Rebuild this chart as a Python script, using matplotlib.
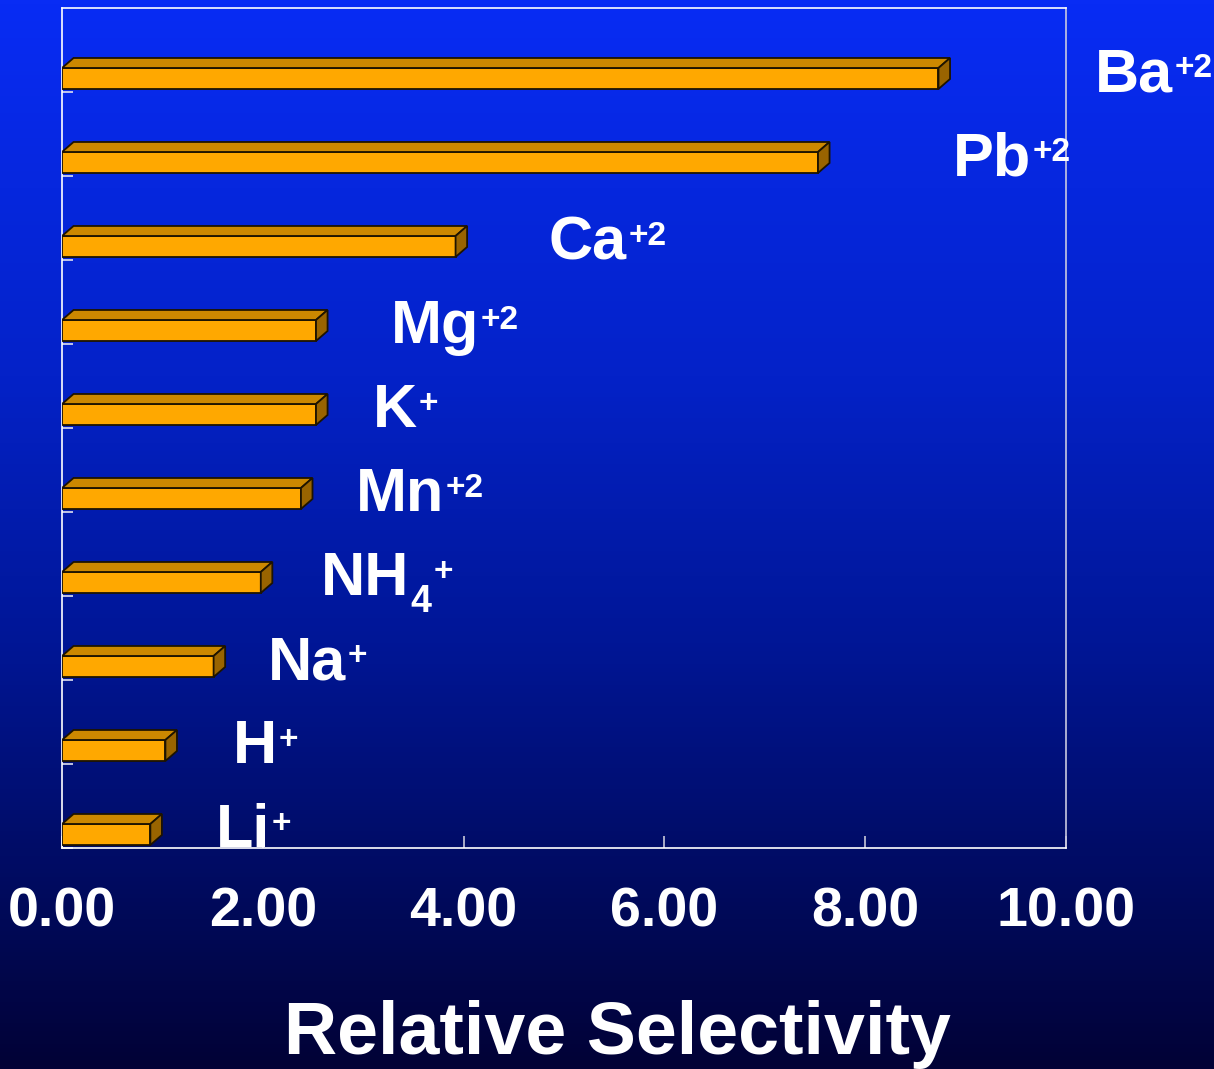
# Relative selectivity of cations, drawn as 3D-looking horizontal bars.

import matplotlib
matplotlib.use('Agg')
import matplotlib.pyplot as plt
from matplotlib.patches import Polygon
from matplotlib.colors import LinearSegmentedColormap
import numpy as np

plt.rcParams['font.family'] = 'Liberation Sans'
plt.rcParams['font.weight'] = 'bold'

# data, bottom to top
ion_base = ['Li', 'H', 'Na', 'NH', 'Mn', 'K', 'Mg', 'Ca', 'Pb', 'Ba']
ion_sub = ['', '', '', '4', '', '', '', '', '', '']
ion_charge = ['+', '+', '+', '+', '+2', '+', '+2', '+2', '+2', '+2']
selectivity = [0.88, 1.03, 1.51, 1.98, 2.38, 2.53, 2.53, 3.92, 7.53, 8.73]
xticks = [0, 2, 4, 6, 8, 10]
xticklabels = ['0.00', '2.00', '4.00', '6.00', '8.00', '10.00']

# where each ion label sits (x in data units, placed by hand on the slide)
label_x = [1.53, 1.70, 2.05, 2.58, 2.93, 3.10, 3.28, 4.85, 8.87, 10.29]

# bar look
bar_h = 0.25      # front face height
bar_off = 0.036   # gap between slot bottom and front face
dx = 0.115        # depth to the right (x units)
dy = 0.119        # depth upwards (y units)
front_c = '#FFA800'
top_c = '#CC8800'
side_c = '#996400'
edge_c = '#1e1400'

fig = plt.figure(figsize=(12.14, 10.69), dpi=100)

# gradient background
bg = fig.add_axes([0, 0, 1, 1], zorder=-10)
cmap = LinearSegmentedColormap.from_list(
    'bg', [(0.0, '#082cf4'), (0.35, '#0422c8'), (0.6, '#001696'),
           (0.8, '#000c66'), (1.0, '#020236')])
bg.imshow(np.linspace(0, 1, 256).reshape(-1, 1), aspect='auto', cmap=cmap,
          extent=[0, 1, 0, 1])
bg.axis('off')

ax = fig.add_axes([62 / 1214, 1 - 848 / 1069, 1004 / 1214, 840 / 1069])
ax.set_facecolor('none')

pos = np.arange(len(selectivity))
bottoms = pos - 0.5 + bar_off
ax.barh(bottoms + bar_h / 2, selectivity, height=bar_h, left=0,
        color=front_c, edgecolor=edge_c, linewidth=1.3, zorder=3)

for b, v in zip(bottoms, selectivity):
    t = b + bar_h
    top = Polygon([(0, t), (dx, t + dy), (v + dx, t + dy), (v, t)],
                  closed=True, facecolor=top_c, edgecolor=edge_c,
                  linewidth=1.3, zorder=3)
    side = Polygon([(v, b), (v, t), (v + dx, t + dy), (v + dx, b + dy)],
                   closed=True, facecolor=side_c, edgecolor=edge_c,
                   linewidth=1.3, zorder=3)
    ax.add_patch(top)
    ax.add_patch(side)

# ion labels: base text, then optional subscript, then the charge
for p, lx, base, sub, chg in zip(pos, label_x, ion_base, ion_sub, ion_charge):
    main = ax.text(lx, p - 0.49, base, color='white', fontsize=44,
                   ha='left', va='baseline', clip_on=False, zorder=5)
    last = main
    if sub:
        last = ax.annotate(sub, xy=(1, 1), xycoords=main, xytext=(1, -24),
                           textcoords='offset points', color='white',
                           fontsize=27, ha='left', va='top', zorder=5)
    ax.annotate(chg, xy=(1, 1), xycoords=(last, main), xytext=(1, -4),
                textcoords='offset points', color='white', fontsize=24,
                ha='left', va='top', zorder=5)

ax.set_xlim(0, 10)
ax.set_ylim(-0.5, len(selectivity) - 0.5)

ax.set_xticks(xticks)
ax.set_xticklabels(xticklabels, fontweight='bold', fontsize=40, color='white')
ax.tick_params(axis='x', direction='in', length=9, width=1.2,
               color='#c8c8d8', pad=28)
ax.set_yticks(np.arange(-0.5, len(selectivity) - 0.5, 1.0))
ax.set_yticklabels([])
ax.tick_params(axis='y', direction='in', length=8, width=1.2, color='#e0e0f0')

for s in ax.spines.values():
    s.set_color('white')
    s.set_linewidth(1.2)
ax.spines['right'].set_color('#c8c8e0')

fig.text(618 / 1214, 15 / 1069, 'Relative Selectivity', color='white',
         fontsize=53, fontweight='bold', ha='center', va='baseline')

fig.savefig('out.png', dpi=100)
